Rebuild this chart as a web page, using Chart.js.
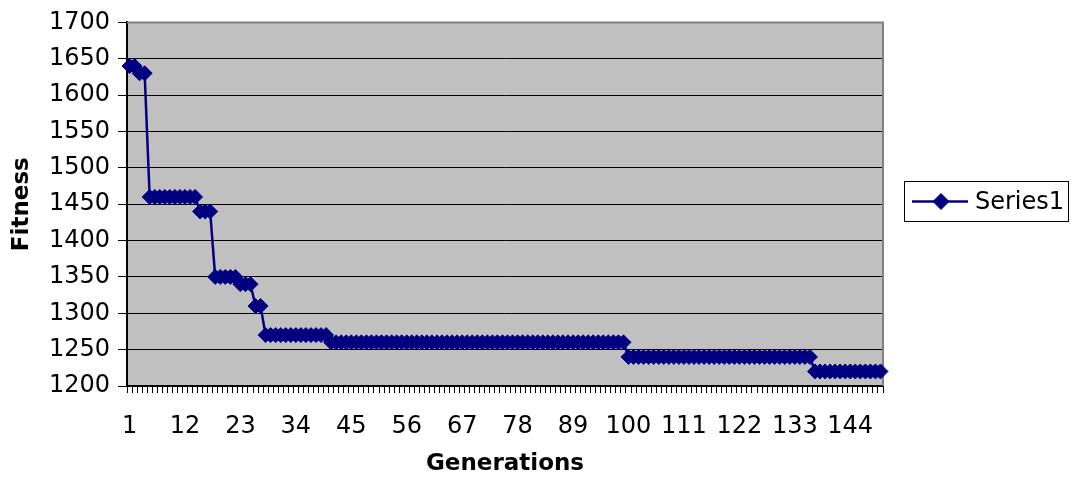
<!DOCTYPE html>
<html>
<head>
<meta charset="utf-8">
<script src="https://cdn.jsdelivr.net/npm/chart.js@4/dist/chart.umd.min.js"></script>
<style>
  html, body { margin: 0; padding: 0; background: #ffffff; }
  #wrap { width: 1073px; height: 478px; position: relative; }
</style>
</head>
<body>
<div id="wrap"><canvas id="c" width="1073" height="478"></canvas></div>
<script>
// ---- data ----
const generations = Array.from({ length: 150 }, (_, i) => String(i + 1));
const fitness = [
  1640, 1640, 1630, 1630,
  1460, 1460, 1460, 1460, 1460, 1460, 1460, 1460, 1460, 1460,
  1440, 1440, 1440,
  1350, 1350, 1350, 1350, 1350,
  1340, 1340, 1340,
  1310, 1310,
  1270, 1270, 1270, 1270, 1270, 1270, 1270, 1270, 1270, 1270, 1270, 1270, 1270,
  1260, 1260, 1260, 1260, 1260, 1260, 1260, 1260, 1260, 1260,
  1260, 1260, 1260, 1260, 1260, 1260, 1260, 1260, 1260, 1260,
  1260, 1260, 1260, 1260, 1260, 1260, 1260, 1260, 1260, 1260,
  1260, 1260, 1260, 1260, 1260, 1260, 1260, 1260, 1260, 1260,
  1260, 1260, 1260, 1260, 1260, 1260, 1260, 1260, 1260, 1260,
  1260, 1260, 1260, 1260, 1260, 1260, 1260, 1260, 1260,
  1240, 1240, 1240, 1240, 1240, 1240, 1240, 1240, 1240, 1240,
  1240, 1240, 1240, 1240, 1240, 1240, 1240, 1240, 1240, 1240,
  1240, 1240, 1240, 1240, 1240, 1240, 1240, 1240, 1240, 1240,
  1240, 1240, 1240, 1240, 1240, 1240, 1240,
  1220, 1220, 1220, 1220, 1220, 1220, 1220, 1220, 1220, 1220,
  1220, 1220, 1220, 1220
];
const xTickLabels = ['1', '12', '23', '34', '45', '56', '67', '78', '89', '100', '111', '122', '133', '144'];
const yMin = 1200, yMax = 1700, yStep = 50;
const seriesName = 'Series1';
const xTitle = 'Generations';
const yTitle = 'Fitness';

const FONT = "'DejaVu Sans', Verdana, sans-serif";
const NAVY = '#000080';

const plotDecor = {
  id: 'plotDecor',
  beforeDraw(chart) {
    const { ctx, chartArea: a } = chart;
    ctx.save();
    ctx.fillStyle = '#c0c0c0';
    ctx.fillRect(a.left, a.top, a.right - a.left, a.bottom - a.top);
    ctx.restore();
  },
  beforeDatasetsDraw(chart) {
    const { ctx, chartArea: a } = chart;
    ctx.save();
    ctx.strokeStyle = '#808080';
    ctx.lineWidth = 2;
    ctx.beginPath();
    ctx.moveTo(a.left, a.top);
    ctx.lineTo(a.right, a.top);
    ctx.lineTo(a.right, a.bottom);
    ctx.stroke();
    ctx.restore();
  },
  afterDraw(chart) {
    const { ctx } = chart;
    ctx.save();
    // legend box
    ctx.strokeStyle = '#000000';
    ctx.lineWidth = 1;
    ctx.strokeRect(904.5, 181.5, 164, 40);
    ctx.strokeStyle = NAVY;
    ctx.lineWidth = 2.5;
    ctx.beginPath();
    ctx.moveTo(912, 201.5);
    ctx.lineTo(968, 201.5);
    ctx.stroke();
    ctx.fillStyle = NAVY;
    ctx.strokeStyle = NAVY;
    ctx.lineWidth = 1;
    Chart.helpers.drawPoint(ctx, { pointStyle: 'rectRot', radius: 8, rotation: 0, borderWidth: 1 }, 941, 201.5);
    ctx.fillStyle = '#000000';
    ctx.font = '24px ' + FONT;
    ctx.textBaseline = 'middle';
    ctx.textAlign = 'left';
    ctx.fillText(seriesName, 975, 203);
    ctx.restore();
  }
};

new Chart(document.getElementById('c'), {
  type: 'line',
  data: {
    labels: generations,
    datasets: [{
      label: seriesName,
      data: fitness,
      borderColor: NAVY,
      backgroundColor: NAVY,
      borderWidth: 2.5,
      pointStyle: 'rectRot',
      pointRadius: 7.5,
      pointBorderWidth: 1,
      pointBackgroundColor: NAVY,
      pointBorderColor: NAVY,
      tension: 0,
      fill: false
    }]
  },
  options: {
    responsive: false,
    animation: false,
    devicePixelRatio: 1,
    layout: { padding: { left: 0, top: 17, right: 190, bottom: 0 } },
    plugins: {
      legend: { display: false },
      tooltip: { enabled: false }
    },
    scales: {
      x: {
        type: 'category',
        offset: true,
        afterFit(s) { s.height = 92; },
        grid: {
          offset: true,
          drawOnChartArea: false,
          drawTicks: true,
          tickLength: 7,
          color: '#000000',
          lineWidth: 1
        },
        border: { display: true, color: '#000000', width: 2 },
        ticks: {
          autoSkip: false,
          maxRotation: 0,
          minRotation: 0,
          padding: 19,
          color: '#000000',
          font: { family: FONT, size: 24 },
          callback(value, index) {
            const lab = this.getLabelForValue(value);
            return xTickLabels.includes(lab) ? lab : '';
          }
        },
        title: {
          display: true,
          text: xTitle,
          color: '#000000',
          font: { family: FONT, size: 23, weight: 'bold' },
          padding: { top: 0, bottom: 0 }
        }
      },
      y: {
        min: yMin,
        max: yMax,
        afterFit(s) { s.width = 127; },
        ticks: {
          stepSize: yStep,
          padding: 8,
          color: '#000000',
          font: { family: FONT, size: 24 },
          callback(value) { return String(value); }
        },
        grid: {
          color: '#000000',
          lineWidth: 1,
          drawTicks: true,
          tickLength: 9
        },
        border: { display: true, color: '#000000', width: 2 },
        title: {
          display: true,
          text: yTitle,
          color: '#000000',
          font: { family: FONT, size: 23, weight: 'bold' },
          padding: { top: 8, bottom: 0 }
        }
      }
    }
  },
  plugins: [plotDecor]
});
</script>
</body>
</html>
